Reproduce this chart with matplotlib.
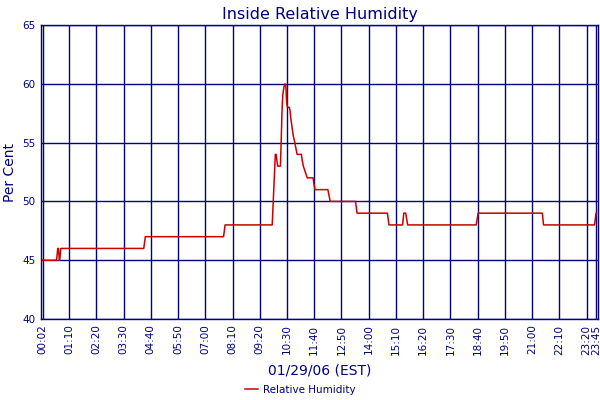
import matplotlib
matplotlib.use("Agg")
import matplotlib.pyplot as plt

# minutes after midnight, relative humidity (%)
times = [2, 38, 41, 43, 45, 46, 49, 262, 266, 467, 471, 592, 594, 596, 598,
         600, 602, 604, 606, 613, 615, 617, 619, 622, 625, 627, 629, 631,
         636, 638, 640, 643, 646, 650, 653, 656, 667, 669, 672, 677, 682,
         697, 699, 702, 735, 738, 741, 806, 808, 810, 888, 892, 927, 930,
         935, 940, 1116, 1121, 1286, 1289, 1420, 1424, 1425]
humidity = [45, 45, 46, 46, 45, 45, 46, 46, 47, 47, 48, 48, 49.5, 51, 52.5,
            54, 54, 53.5, 53, 53, 55, 57.5, 59, 59.7, 60, 59.8, 58.5, 58,
            58, 57.7, 57, 56.3, 55.6, 55, 54.5, 54, 54, 53.5, 53, 52.5, 52,
            52, 51.5, 51, 51, 50.5, 50, 50, 49.5, 49, 49, 48, 48, 49,
            49, 48, 48, 49, 49, 48, 48, 49, 49]

tick_pos = [2] + [70 * k for k in range(1, 21)] + [1425]
tick_labels = ["00:02", "01:10", "02:20", "03:30", "04:40", "05:50", "07:00",
               "08:10", "09:20", "10:30", "11:40", "12:50", "14:00", "15:10",
               "16:20", "17:30", "18:40", "19:50", "21:00", "22:10", "23:20",
               "23:45"]
y_ticks = [40, 45, 50, 55, 60, 65]

navy = "#000080"

fig = plt.figure(figsize=(6, 4), dpi=100)
ax = fig.add_axes([41 / 600, 1 - 319 / 400, 557 / 600, 294 / 400])

ax.plot(times, humidity, color="#cc0000", linewidth=1.1,
        label="Relative Humidity")

ax.set_xlim(-2, 1429)
ax.set_ylim(40, 65)
ax.set_xticks(tick_pos)
ax.set_xticklabels(tick_labels, rotation=90, fontsize=7.5, color=navy)
ax.set_yticks(y_ticks)
ax.set_yticklabels([str(v) for v in y_ticks], fontsize=7.5, color=navy)
ax.tick_params(length=0, pad=4)
ax.grid(True, color=navy, linewidth=1.0)
ax.set_axisbelow(True)
for sp in ax.spines.values():
    sp.set_color(navy)
    sp.set_linewidth(1.0)

ax.set_title("Inside Relative Humidity", color=navy, fontsize=11.5, pad=4)
ax.set_ylabel("Per Cent", color=navy, fontsize=10)
ax.yaxis.set_label_coords(-0.043, 0.5)
ax.set_xlabel("01/29/06 (EST)", color=navy, fontsize=10, labelpad=6)

leg = fig.legend(loc="center", bbox_to_anchor=(0.5, 1 - 390 / 400),
                 frameon=False, fontsize=7.5, handlelength=1.3,
                 handletextpad=0.4)
for t in leg.get_texts():
    t.set_color(navy)

fig.savefig("out.png", dpi=100)
